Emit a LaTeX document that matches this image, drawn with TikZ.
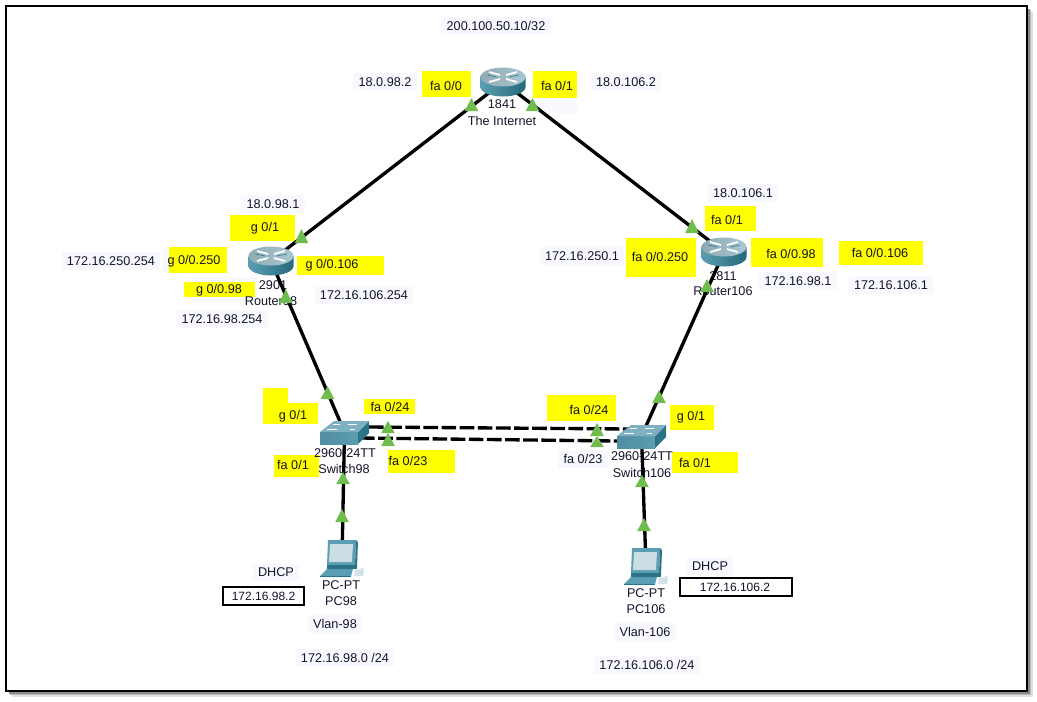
\documentclass[tikz,border=0pt]{standalone}
\usepackage{fontspec}
\setmainfont{Liberation Sans}
\definecolor{lav}{HTML}{F8F9FF}
\definecolor{ink}{HTML}{14142A}
\definecolor{yel}{HTML}{FFFF00}
\definecolor{tri}{HTML}{70BC4E}
\definecolor{tealdark}{HTML}{2B7488}
\definecolor{tealmid}{HTML}{5B9DB2}
\definecolor{teallight}{HTML}{A9C8D2}
\tikzset{
  txt/.style={font=\fontsize{9.5pt}{11pt}\selectfont,text=ink,inner sep=0pt,anchor=center},
  lbl/.style={txt,fill=lav,inner xsep=4pt,inner ysep=3.5pt},
  dev/.style={txt},
  anchorbox/.style={inner sep=0pt,minimum width=30pt,minimum height=20pt},
  link/.style={draw=black,line width=2.5pt},
  dlink/.style={draw=black,line width=2.5pt,dash pattern=on 11pt off 2.6pt},
  greentri/.style={fill=tri,draw=none},
}
\newcommand\yrect[4]{\fill[yel] (#1,#2) rectangle (#3,#4);}
\newcommand\tria[3]{\fill[greentri] (#1-6.8,#3) -- (#1,#2) -- (#1+6.8,#3) -- cycle;}
\newcommand\routericon[1]{%
\begin{scope}[shift={(#1)}]
  \path[left color=tealmid,middle color=white,right color=tealdark!90!black] (-22.5,-5) -- (-22.5,5) arc[start angle=180,end angle=360,x radius=22.5,y radius=-9.5] -- (22.5,-5) -- cycle;
  \path[left color=teallight!85!black,right color=teallight] (0,-5) ellipse[x radius=22.5,y radius=9.5];
  \draw[white,line width=1.3pt] (-14,-10) -- (-3,-7) (14,-10) -- (3,-7) (-14,0) -- (-3,-3) (14,0) -- (3,-3);
  \draw[tealdark,line width=.4pt] (-16,-7) -- (-6,-5) (6,-5) -- (16,-7);
\end{scope}}
\newcommand\switchicon[1]{%
\begin{scope}[shift={(#1)}]
  \path[left color=tealmid!90!black,right color=tealmid] (-24.5,0) rectangle (13.5,12);
  \fill[tealdark] (13.5,0) -- (24.5,-11) -- (24.5,1) -- (13.5,12) -- cycle;
  \fill[teallight!45!tealmid] (-24.5,0) -- (-10.5,-11) -- (24.5,-11) -- (13.5,0) -- cycle;
  \draw[white,line width=.7pt] (-12,-8) -- (-5,-8) (3,-8) -- (12,-8) (-18,-3) -- (-8,-3) (5,-3) -- (10,-3);
\end{scope}}
\newcommand\pcicon[1]{%
\begin{scope}[shift={(#1)}]
  \fill[tealmid] (-14,-18) -- (14,-18) -- (13,7) -- (-15,7) -- cycle;
  \fill[tealdark] (14,-18) -- (16,-16) -- (15,9) -- (13,7) -- cycle;
  \fill[teallight!60!white] (-12,-14) -- (11,-14) -- (10,4) -- (-13,4) -- cycle;
  \fill[tealdark] (-15,7) -- (15,7) -- (15,11) -- (-15,11) -- cycle;
  \fill[tealmid] (-15,11) -- (11,11) -- (9,18) -- (-22,18) -- cycle;
  \fill[tealdark] (-22,18) -- (9,18) -- (9,19) -- (-22,19) -- cycle;
  \fill[teallight!50!white] (13,12) -- (22,10) -- (21,18) -- (12,18) -- cycle;
\end{scope}}
\begin{document}
\begin{tikzpicture}[x=0.75pt,y=-0.75pt]
\useasboundingbox (0,0) rectangle (1037,701);
\fill[white] (0,0) rectangle (1037,701);
% shadow and frame
\fill[black!12] (12,12) rectangle (1033,697);
\fill[black!28] (10,10) rectangle (1031,695);
\fill[black!45] (9,9) rectangle (1029.5,693.5);
\draw[black,line width=1.6pt,fill=white] (6,6) rectangle (1027,691);
% lavender address labels
\node[lbl] (ipa) at (496,26) {200.100.50.10/32};
\node[lbl] (ipb) at (385,82) {18.0.98.2};
\node[lbl] (ipc) at (626,82) {18.0.106.2};
\node[lbl] (ipd) at (273,204) {18.0.98.1};
\node[lbl] (ipe) at (111,261) {172.16.250.254};
\node[lbl] (ipf) at (364,295) {172.16.106.254};
\node[lbl] (ipg) at (222,319) {172.16.98.254};
\node[lbl] (iph) at (743,193) {18.0.106.1};
\node[lbl] (ipi) at (582,256) {172.16.250.1};
\node[lbl] (ipj) at (798,281) {172.16.98.1};
\node[lbl] (ipk) at (891,285) {172.16.106.1};
\node[lbl] (pf23b) at (583,459) {fa 0/23};
\node[lbl] (dhcpa) at (276,572) {DHCP};
\node[lbl] (dhcpb) at (710,566) {DHCP};
\node[lbl] (vlana) at (335,624) {Vlan-98};
\node[lbl] (vlanb) at (645,632) {Vlan-106};
\node[lbl] (neta) at (345,658) {172.16.98.0 /24};
\node[lbl] (netb) at (647,665) {172.16.106.0 /24};
\fill[lav] (191,277) rectangle (257,302);
\fill[lav] (536,98) rectangle (577,113);
\fill[lav] (163,248) rectangle (180,273);
% yellow port boxes
\yrect{422}{71}{471}{97}
\yrect{533}{71}{577}{98}
\yrect{230}{215}{295}{241}
\yrect{297}{256}{384}{275}
\yrect{169}{247}{227}{273}
\yrect{184}{282}{255}{297}
\yrect{705}{206}{756}{231}
\yrect{626}{238}{696}{277}
\yrect{751}{238}{823}{267}
\yrect{839}{241}{923}{265}
\yrect{263}{388}{288}{424}
\yrect{275}{403}{318}{424}
\yrect{364}{399}{415}{414}
\yrect{388}{450}{455}{473}
\yrect{274}{455}{319}{477}
\yrect{547}{395}{616}{421}
\yrect{670}{405}{714}{430}
\yrect{672}{452}{738}{473}
% port labels
\node[txt] (pa) at (446,86) {fa 0/0};
\node[txt] (pb) at (557,86) {fa 0/1};
\node[txt] (pc) at (265,228) {g 0/1};
\node[txt] (pd) at (332,265) {g 0/0.106};
\node[txt] (pe) at (194,261) {g 0/0.250};
\node[txt] (pf) at (219,290) {g 0/0.98};
\node[txt] (pg) at (727,220) {fa 0/1};
\node[txt] (ph) at (660,257) {fa 0/0.250};
\node[txt] (pi) at (791,254) {fa 0/0.98};
\node[txt] (pj) at (880,253) {fa 0/0.106};
\node[txt] (pk) at (293,416) {g 0/1};
\node[txt] (pl) at (390,407) {fa 0/24};
\node[txt] (pm) at (408,461) {fa 0/23};
\node[txt] (pn) at (293,465) {fa 0/1};
\node[txt] (po) at (589,410) {fa 0/24};
\node[txt] (pp) at (691,417) {g 0/1};
\node[txt] (pq) at (695,463) {fa 0/1};
% device labels
\node[dev] (da) at (502,104) {1841};
\node[dev] (db) at (502,121) {The Internet};
\node[dev] (dc) at (273,285) {2901};
\node[dev] (dd) at (271,301) {Router98};
\node[dev] (de) at (723,276) {2811};
\node[dev] (df) at (723,291) {Router106};
\node[dev] (dg) at (345,453) {2960-24TT};
\node[dev] (dh) at (344,469) {Switch98};
\node[dev] (di) at (642,456) {2960-24TT};
\node[dev] (dj) at (642,473) {Switch106};
\node[dev] (dk) at (341,585) {PC-PT};
\node[dev] (dl) at (341,601) {PC98};
\node[dev] (dm) at (646,593) {PC-PT};
\node[dev] (dn) at (646,609) {PC106};
% device anchors
\node[anchorbox] (rnet) at (503,82) {};
\node[anchorbox] (r98) at (271,261) {};
\node[anchorbox] (r106) at (724,252) {};
\node[anchorbox] (sw98) at (344.5,432) {};
\node[anchorbox] (sw106) at (641.5,436) {};
\node[anchorbox] (pc98) at (342,558) {};
\node[anchorbox] (pc106) at (646,566) {};
\coordinate (s98a) at (369,427);
\coordinate (s98b) at (360,438);
\coordinate (s106a) at (630,429);
\coordinate (s106b) at (617,441);
% connectors
\draw[link] (rnet.center) -- (r98.center);
\draw[link] (rnet.center) -- (r106.center);
\draw[link] (r98.center) -- (sw98.center);
\draw[link] (r106.center) -- (sw106.center);
\draw[link] (sw98.center) -- (pc98.center);
\draw[link] (sw106.center) -- (pc106.center);
\draw[dlink] (s98a) -- (s106a);
\draw[dlink] (s98b) -- (s106b);
% icons
\routericon{rnet}
\routericon{r98}
\routericon{r106}
\switchicon{sw98}
\switchicon{sw106}
\pcicon{pc98}
\pcicon{pc106}
% green link lights
\tria{471.5}{98}{111}
\tria{532.5}{98}{111}
\tria{301.5}{229}{243}
\tria{285.7}{289}{303}
\tria{327.5}{386}{399}
\tria{388}{421}{433}
\tria{388}{433}{446}
\tria{343}{472}{484}
\tria{342}{509}{522}
\tria{692}{219}{233}
\tria{707}{279}{292}
\tria{659}{390}{403}
\tria{597}{423}{436}
\tria{597}{436}{447}
\tria{642}{475}{487}
\tria{644}{518}{531}
% address boxes
\draw[black,line width=1.5pt,fill=white] (223,587) rectangle (304,605);
\node[txt,font=\fontsize{9pt}{11pt}\selectfont] (boxa) at (263.5,596) {172.16.98.2};
\draw[black,line width=1.5pt,fill=white] (680,578) rectangle (792,596);
\node[txt,font=\fontsize{9pt}{11pt}\selectfont] (boxb) at (735,587) {172.16.106.2};
\end{tikzpicture}
\end{document}
